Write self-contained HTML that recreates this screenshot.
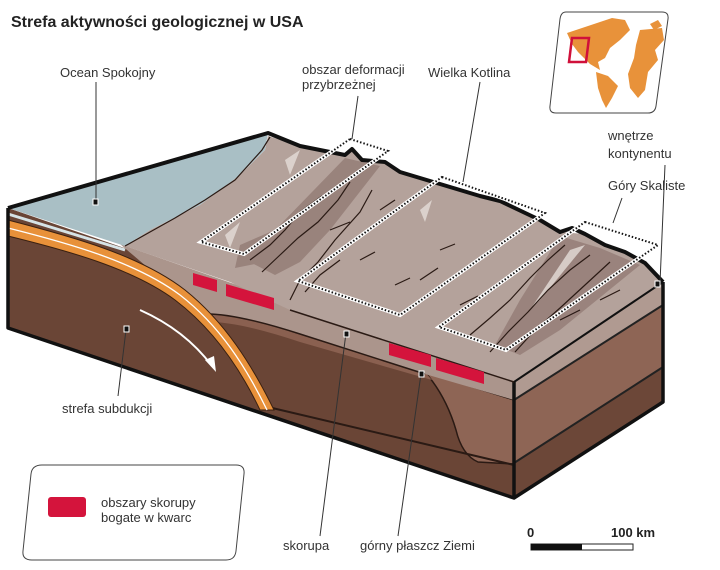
<!DOCTYPE html>
<html><head><meta charset="utf-8"><style>
html,body{margin:0;padding:0;background:#fff}
svg{display:block}
text{font-family:"Liberation Sans Narrow","Liberation Sans",sans-serif;fill:#333;font-size:13px}
</style></head><body>
<svg width="720" height="570" viewBox="0 0 720 570" xmlns="http://www.w3.org/2000/svg">
<text x="11" y="27" style="font-size:16px;font-weight:bold;fill:#222">Strefa aktywności geologicznej w USA</text>

<!-- world map -->
<path d="M566,12 L662,12 Q669,12 668,19 L656,106 Q655,113 648,113 L556,113 Q549,113 550,106 L560,19 Q561,12 566,12Z" fill="#fff" stroke="#444" stroke-width="1"/>
<path d="M567,33 L585,27 L600,22 L612,18 L625,20 L630,30 L620,40 L610,48 L605,58 L598,62 L600,70 L590,64 L584,58 L578,52 L572,44Z" fill="#e8923a"/>
<path d="M596,72 L608,76 L618,86 L612,98 L606,108 L602,100 L598,88Z" fill="#e8923a"/>
<path d="M640,30 L662,28 L664,40 L655,50 L658,60 L648,72 L645,90 L638,98 L630,88 L628,74 L634,58 L636,45Z" fill="#e8923a"/>
<path d="M650,24 L658,20 L662,26 L654,30Z" fill="#e8923a"/>
<path d="M572,38 L589,38 L586,62 L569,62Z" fill="none" stroke="#d0103a" stroke-width="2.5"/>

<!-- right face -->
<polygon points="514,382 663,282 663,402 514,498" fill="#6c4738"/>
<polygon points="514,382 663,282 663,305 514,400" fill="#b09a91"/>
<polygon points="514,400 663,305 663,367 514,463" fill="#8e6555"/>
<line x1="514" y1="400" x2="663" y2="305" stroke="#222" stroke-width="2"/>
<line x1="514" y1="463" x2="663" y2="367" stroke="#222" stroke-width="2"/>

<!-- front face -->
<polygon points="8,208 514,382 514,498 8,328" fill="#6a4536"/>
<path d="M425,372 L514,400 L514,464 L478,462 Q462,455 456,430 Q446,396 425,372Z" fill="#8e6555" stroke="#2a1a14" stroke-width="1.5"/>
<path d="M200,312 Q230,310 300,332 L425,372 L432,380 L300,342 Q240,322 210,322Z" fill="#8a6050"/>
<path d="M120,244 L514,382 L514,400 L425,374 L300,334 Q235,312 200,314 L160,278Z" fill="#ab958c"/>
<path d="M200,314 Q232,312 300,334 L425,374" fill="none" stroke="#2a1a14" stroke-width="1.5"/>
<line x1="268" y1="407" x2="514" y2="465" stroke="#2a1a14" stroke-width="2"/>
<!-- slab -->
<path d="M8,220 C70,236 140,255 185,290 C225,322 252,365 274,410 L260,410 C240,368 212,328 175,300 C132,268 65,250 8,236Z" fill="#e8913a" stroke="#3a2010" stroke-width="1"/>
<path d="M8,228 C68,243 136,262 180,295 C220,326 246,367 267,410" fill="none" stroke="#fff" stroke-width="1.3"/>
<!-- arrow -->
<path d="M140,310 Q185,330 212,366" fill="none" stroke="#fff" stroke-width="2"/>
<polygon points="205,360 216,372 214,356" fill="#fff"/>

<!-- top face: water -->
<polygon points="8,208 268,133 265,150 240,175 200,205 150,230 125,246" fill="#a9bfc5"/>
<line x1="8" y1="214" x2="125" y2="250" stroke="#d6e3e6" stroke-width="3"/>
<!-- land -->
<polygon points="268,136 300,146 345,155 352,149 362,160 385,162 400,172 430,181 480,196 500,201 540,220 560,232 585,234 605,245 625,252 645,263 663,282 514,382 290,310 230,282 125,246 150,230 200,205 240,175 265,150" fill="#b4a29b"/>
<!-- shading patches -->
<g fill="#8f7670" opacity="0.7">
<path d="M345,158 L380,166 L330,230 L300,262 L275,275 L250,262 L280,225Z"/>
<path d="M560,236 L600,248 L640,265 L560,330 L520,355 L495,345 L520,300Z"/>
<path d="M240,245 L270,232 L265,262 L235,268Z"/>
</g>
<g fill="#e5ddd8" opacity="0.8">
<path d="M285,160 L300,150 L290,175Z"/><path d="M225,235 L240,222 L230,248Z"/>
<path d="M570,250 L585,245 L540,300 L530,310Z"/><path d="M420,210 L432,200 L425,222Z"/>
</g>
<g fill="none" stroke="#2a1a14" stroke-width="1.2">
<path d="M125,246 L150,232 L175,218 L205,200 L235,180 L262,150 L270,137"/>
<path d="M250,260 L270,245 L285,230 L300,212 L322,196"/>
<path d="M262,272 L280,255 L298,238 L318,222 L338,200 L350,182"/>
<path d="M290,300 L300,280 L318,262 L335,240 L360,212 L372,190"/>
<path d="M305,292 L320,275 L340,260"/><path d="M330,230 L350,222"/>
<path d="M380,210 L395,200"/><path d="M360,260 L375,252"/><path d="M420,280 L438,268"/>
<path d="M470,335 L490,318 L510,300 L530,278 L548,260 L565,245"/>
<path d="M490,352 L508,332 L528,312 L548,290 L570,270 L590,255"/>
<path d="M515,352 L535,330 L560,308 L585,285 L610,262"/>
<path d="M560,320 L580,310"/><path d="M600,300 L620,290"/><path d="M460,305 L478,296"/>
<path d="M395,285 L410,278"/><path d="M440,250 L455,244"/>
</g>
<!-- ridge outline -->
<path d="M8,208 L268,133 L300,146 L345,155 L352,149 L362,160 L385,162 L400,172 L430,181 L480,196 L500,201 L540,220 L560,232 L572,228 L585,234 L605,245 L625,252 L645,263 L663,282" fill="none" stroke="#111" stroke-width="4" stroke-linejoin="round"/>
<!-- block outline -->
<polyline points="8,208 8,328 514,498 663,402 663,282" fill="none" stroke="#111" stroke-width="3.5" stroke-linejoin="round"/>
<line x1="514" y1="382" x2="514" y2="498" stroke="#111" stroke-width="3.5"/>
<line x1="514" y1="382" x2="663" y2="282" stroke="#111" stroke-width="2"/>
<path d="M290,310 L514,382" fill="none" stroke="#2a1a14" stroke-width="1.5"/>

<!-- red bars -->
<g fill="#d4143c">
<polygon points="193,273 217,280 217,292 193,285"/>
<polygon points="226,284 274,298 274,310 226,296"/>
<polygon points="389,343 431,355 431,367 389,355"/>
<polygon points="436,358 484,372 484,384 436,370"/>
</g>

<!-- dotted rectangles -->
<g fill="none" stroke-linejoin="miter">
<g stroke="#fff" stroke-width="4">
<polygon points="350,139 388,151 244,254 201,242"/>
<polygon points="442,177 545,213 400,315 298,281"/>
<polygon points="585,222 658,245 506,350 439,327"/>
</g>
<g stroke="#111" stroke-width="2" stroke-dasharray="1.5,2">
<polygon points="350,139 388,151 244,254 201,242"/>
<polygon points="442,177 545,213 400,315 298,281"/>
<polygon points="585,222 658,245 506,350 439,327"/>
</g>
</g>

<!-- leader lines -->
<g stroke="#333" stroke-width="1" fill="none">
<line x1="96" y1="82" x2="96" y2="200"/>
<line x1="358" y1="96" x2="352" y2="139"/>
<line x1="480" y1="82" x2="463" y2="182"/>
<line x1="665" y1="165" x2="660" y2="283"/>
<line x1="622" y1="198" x2="613" y2="223"/>
<line x1="118" y1="396" x2="126" y2="330"/>
<line x1="320" y1="536" x2="346" y2="333"/>
<line x1="398" y1="536" x2="421" y2="374"/>
</g>
<g fill="#111" stroke="#fff" stroke-width="1">
<rect x="93" y="199" width="5" height="6"/>
<rect x="655" y="281" width="5" height="6"/>
<rect x="124" y="326" width="5" height="6"/>
<rect x="344" y="331" width="5" height="6"/>
<rect x="419" y="371" width="5" height="6"/>
</g>

<text x="60" y="77">Ocean Spokojny</text>
<text x="302" y="74">obszar deformacji</text>
<text x="302" y="89">przybrzeżnej</text>
<text x="428" y="77">Wielka Kotlina</text>
<text x="608" y="140">wnętrze</text>
<text x="608" y="158">kontynentu</text>
<text x="608" y="190">Góry Skaliste</text>
<text x="62" y="413">strefa subdukcji</text>
<text x="283" y="550">skorupa</text>
<text x="360" y="550">górny płaszcz Ziemi</text>

<!-- legend -->
<path d="M42,465 L236,465 Q245,465 244,474 L236,551 Q235,560 226,560 L32,560 Q22,560 23,551 L31,474 Q32,465 42,465Z" fill="#fff" stroke="#444" stroke-width="1"/>
<rect x="48" y="497" width="38" height="20" rx="3" fill="#d4143c"/>
<text x="101" y="507">obszary skorupy</text>
<text x="101" y="522">bogate w kwarc</text>

<!-- scale -->
<text x="527" y="537" style="font-family:'Liberation Sans',sans-serif;font-weight:bold;font-size:13px;fill:#222">0</text>
<text x="611" y="537" style="font-family:'Liberation Sans',sans-serif;font-weight:bold;font-size:13px;fill:#222">100 km</text>
<rect x="531" y="544" width="102" height="6" fill="#fff" stroke="#222" stroke-width="1"/>
<rect x="531" y="544" width="51" height="6" fill="#111"/>
</svg>
</body></html>
